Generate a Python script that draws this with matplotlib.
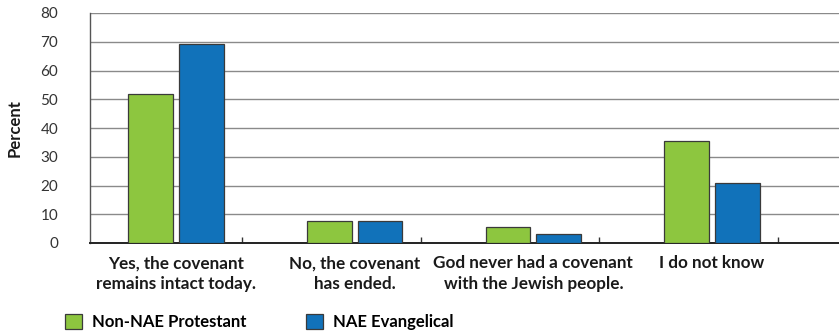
import numpy as np
import matplotlib.pyplot as plt

categories = ['Yes, the covenant\nremains intact today.',
              'No, the covenant\nhas ended.',
              'God never had a covenant\nwith the Jewish people.',
              'I do not know']
non_nae = [51.7, 7.8, 5.6, 35.6]
nae_evangelical = [69.3, 7.5, 3.1, 20.8]
series_names = ['Non-NAE Protestant', 'NAE Evangelical']
colors = ['#8DC63F', '#1172BA']

plt.rcParams['font.family'] = ['Lato', 'DejaVu Sans']

fig = plt.figure(figsize=(8.39, 3.32), dpi=100)
ax = fig.add_axes([90 / 839, 1 - 243 / 332, 1 - 90 / 839, 230 / 332])

x = np.arange(len(categories))
width = 0.251
offset = 0.142
ax.bar(x - offset, non_nae, width, color=colors[0], edgecolor='#3a3a3a',
       linewidth=0.9, zorder=3, label=series_names[0])
ax.bar(x + offset, nae_evangelical, width, color=colors[1], edgecolor='#3a3a3a',
       linewidth=0.9, zorder=3, label=series_names[1])

ax.set_xlim(-0.48, 3.71)
ax.set_ylim(0, 80)
ax.set_yticks(range(0, 81, 10))
ax.yaxis.grid(True, color='#8a8a8a', linewidth=1.0, zorder=0)
ax.tick_params(axis='y', length=0, pad=23, labelsize=11, labelcolor='#333333')
for lab in ax.get_yticklabels():
    lab.set_horizontalalignment('right')

# category labels sit under the bar pairs, divider ticks between groups
ax.set_xticks(x)
ax.set_xticklabels(categories, fontsize=12.3, fontweight='bold', color='#1a1a1a',
                   linespacing=1.35)
ax.tick_params(axis='x', which='major', length=0, pad=9)
ax.set_xticks(x + 0.37, minor=True)
ax.tick_params(axis='x', which='minor', direction='in', length=4.5,
               width=1.0, color='#333333')

for side in ['top', 'right']:
    ax.spines[side].set_visible(False)
ax.spines['left'].set_color('#555555')
ax.spines['left'].set_linewidth(1.0)
ax.spines['bottom'].set_color('#222222')
ax.spines['bottom'].set_linewidth(1.4)

ax.set_ylabel('Percent', fontsize=12, fontweight='bold', color='#1a1a1a')
ax.yaxis.set_label_coords(-0.0895, 0.5)

leg = fig.legend(loc='lower left', bbox_to_anchor=(50 / 839, -0.04), ncol=2,
                 frameon=False, prop={'size': 12, 'weight': 'bold'},
                 handlelength=1.0, handleheight=1.0, handletextpad=0.6,
                 columnspacing=3.6)
for h in leg.legend_handles:
    h.set_edgecolor('#3a3a3a')

fig.savefig('out.png', dpi=100)
